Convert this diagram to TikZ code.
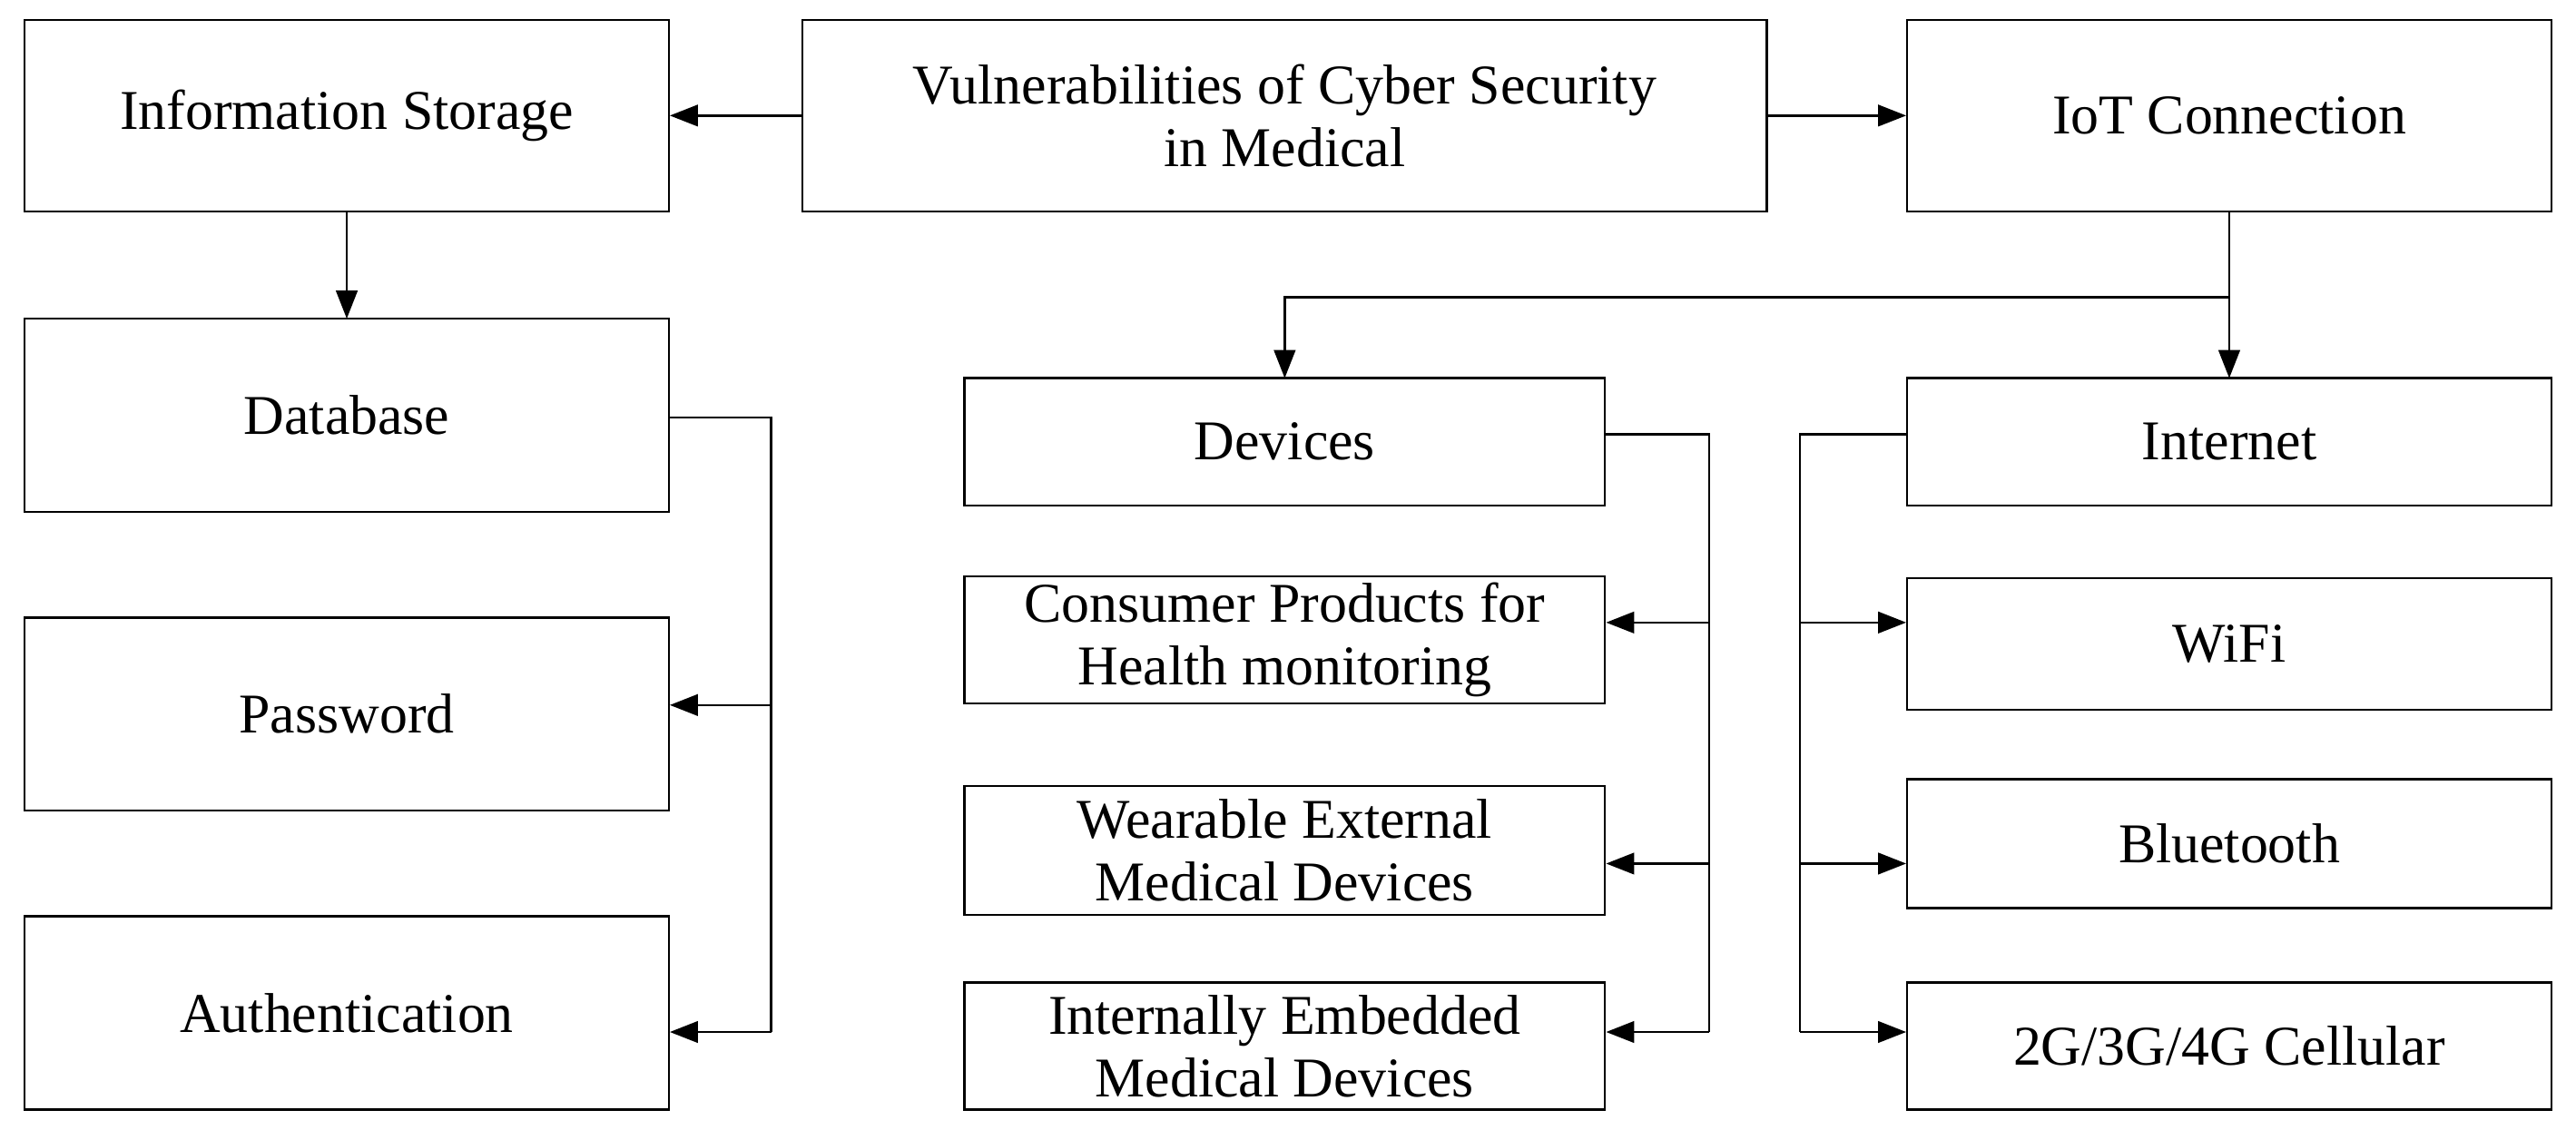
\documentclass[tikz,border=0pt]{standalone}
\usepackage{fontspec}
\setmainfont{Liberation Serif}
\usetikzlibrary{arrows.meta}
\begin{document}
\begin{tikzpicture}[x=1pt,y=-1pt,
  box/.style={draw,line width=1.3pt,align=center,font=\fontsize{34}{38}\selectfont,inner sep=0pt},
  ln/.style={line width=1.3pt},
  ar/.style={ln,-{Triangle[length=17pt,width=13pt]}}]
\useasboundingbox (0,0) rectangle (1560,684);
\newcommand\bx[6]{\node[box,minimum width=#4-#2,minimum height=#5-#3] (#1) at ({(#2+#4)/2},{(#3+#5)/2}) {#6};}
\bx{info}{15}{12}{405}{128}{Information Storage}
\bx{vul}{486}{12}{1070}{128}{Vulnerabilities of Cyber Security\\in Medical}
\bx{iot}{1155}{12}{1545}{128}{IoT Connection}
\bx{db}{15}{193}{405}{310}{Database}
\bx{pw}{15}{374}{405}{491}{Password}
\bx{au}{15}{555}{405}{672}{Authentication}
\bx{dev}{584}{229}{972}{306}{Devices}
\bx{con}{584}{349}{972}{426}{Consumer Products for\\Health monitoring}
\bx{wea}{584}{476}{972}{554}{Wearable External\\Medical Devices}
\bx{int}{584}{595}{972}{672}{Internally Embedded\\Medical Devices}
\bx{net}{1155}{229}{1545}{306}{Internet}
\bx{wifi}{1155}{350}{1545}{430}{WiFi}
\bx{bt}{1155}{472}{1545}{550}{Bluetooth}
\bx{cell}{1155}{595}{1545}{672}{2G/3G/4G Cellular}
\draw[ar] (vul.west) -- (info.east);
\draw[ar] (vul.east) -- (iot.east-|iot.west);
\draw[ar] (210,128) -- (210,193);
\coordinate (a1) at (467,253);
\coordinate (a2) at (467,625);
\draw[ln] (405,253) -- (a1) -- (a2);
\draw[ar] (467,427) -- (pw.east|-0,427);
\draw[ar] (a2) -- (au.east|-a2);
\coordinate (b1) at (1350,180);
\coordinate (b2) at (778,180);
\draw[ln] (1350,128) -- (b1);
\draw[ar] (b1) -- (b2) -- (778,229);
\draw[ar] (b1) -- (1350,229);
\coordinate (c1) at (1035,263);
\coordinate (c2) at (1035,625);
\draw[ln] (972,263) -- (c1) -- (c2);
\draw[ar] (1035,377) -- (con.east|-0,377);
\draw[ar] (1035,523) -- (wea.east|-0,523);
\draw[ar] (c2) -- (int.east|-c2);
\coordinate (d1) at (1090,263);
\coordinate (d2) at (1090,625);
\draw[ln] (1155,263) -- (d1) -- (d2);
\draw[ar] (1090,377) -- (wifi.west|-0,377);
\draw[ar] (1090,523) -- (bt.west|-0,523);
\draw[ar] (d2) -- (cell.west|-d2);
\end{tikzpicture}
\end{document}
